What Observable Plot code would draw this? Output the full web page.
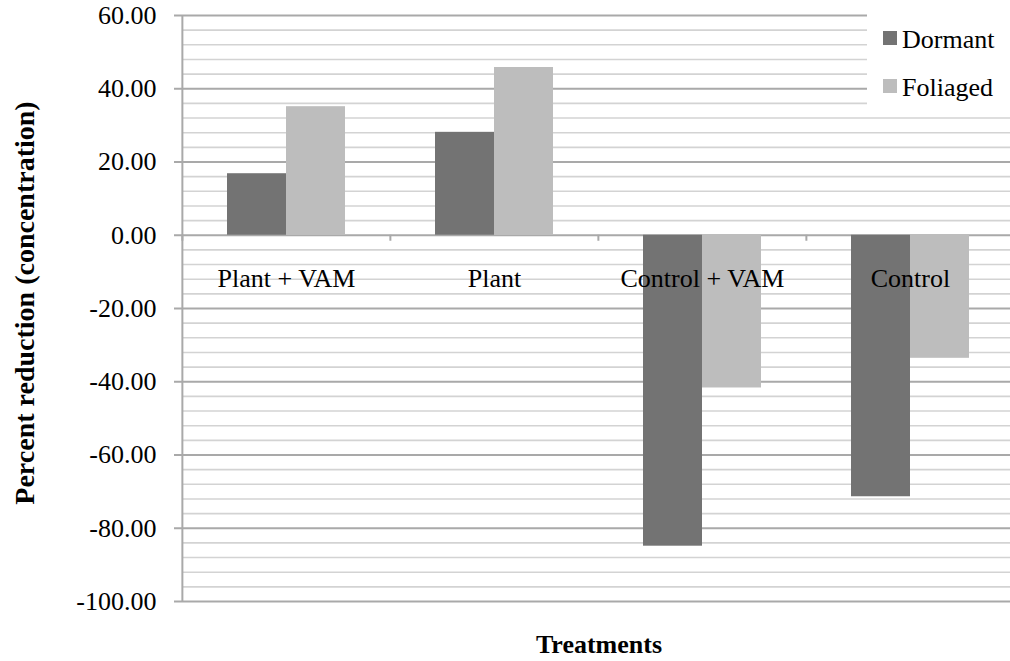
<!DOCTYPE html>
<html>
<head>
<meta charset="utf-8">
<script src="https://cdn.jsdelivr.net/npm/d3@7"></script>
<script src="https://cdn.jsdelivr.net/npm/@observablehq/plot@0.6"></script>
<style>
  html, body { margin: 0; padding: 0; background: white; overflow: hidden; }
  #chart { position: relative; width: 1010px; height: 661px; }
  #legend { position: absolute; left: 867px; top: 8px; width: 143px; height: 104px; background: white;
            font-family: 'Liberation Serif', 'Times New Roman', serif; font-size: 26px; color: black; }
  #legend .item { position: absolute; left: 16px; display: flex; align-items: center; white-space: nowrap; line-height: 1; }
  #legend .sw { width: 14px; height: 14px; margin-right: 5px; margin-top: -5px; }
</style>
</head>
<body>
<div id="chart"><div id="legend"></div></div>
<script>
const categories = ["Plant + VAM", "Plant", "Control + VAM", "Control"];
const series = ["Dormant", "Foliaged"];
const dormant = [16.8, 28.1, -84.9, -71.4];
const foliaged = [35.1, 45.8, -41.7, -33.6];
const majorTicks = [-100, -80, -60, -40, -20, 0, 20, 40, 60];
const minorTicks = d3.range(-100, 61, 4).filter(v => v % 20 !== 0);
const seriesColors = ["#737373", "#bdbdbd"];
const yTitle = "Percent reduction (concentration)";
const xTitle = "Treatments";

const data = categories.flatMap((c, i) => [
  {category: c, series: series[0], value: dormant[i]},
  {category: c, series: series[1], value: foliaged[i]}
]);

const FONT = "'Liberation Serif', 'Times New Roman', serif";
const halfBand = (1014 - 181) / categories.length / 2;

const plot = Plot.plot({
  width: 1010,
  height: 661,
  marginLeft: 181,
  marginRight: -4,
  marginTop: 15,
  marginBottom: 60,
  style: {fontFamily: FONT, fontSize: "26px", background: "white", overflow: "visible"},
  fx: {domain: categories, padding: 0, axis: null},
  x: {domain: series, paddingInner: 0, paddingOuter: 0.75, axis: null},
  y: {domain: [-100, 60], axis: null},
  color: {domain: series, range: seriesColors},
  marks: [
    Plot.ruleY(minorTicks, {stroke: "#d3d3d3", strokeWidth: 1.6}),
    Plot.ruleY(majorTicks, {stroke: "#a9a9a9", strokeWidth: 2}),
    Plot.barY(data, {fx: "category", x: "series", y: "value", fill: "series"}),
    Plot.ruleX(categories, {fx: d => d, x: null, y1: d => 0, y2: d => 0, insetBottom: -6, dx: -halfBand, stroke: "#a9a9a9", strokeWidth: 2}),
    Plot.ruleX([categories[0]], {fx: d => d, x: null, y1: d => -100, y2: d => 60, dx: -halfBand, stroke: "#a9a9a9", strokeWidth: 2}),
    Plot.axisY(majorTicks, {tickFormat: d => d.toFixed(2), tickSize: 8, tickPadding: 18, fontSize: 26, stroke: "#a9a9a9", fill: "black", strokeWidth: 2}),
    Plot.text(categories.map(c => ({category: c, base: 0})), {fx: "category", y: "base", text: "category", dy: 43, fontSize: 26, fill: "black"})
  ]
});

document.getElementById("chart").insertBefore(plot, document.getElementById("legend"));

const svg = d3.select(plot);
svg.append("text")
  .attr("transform", "translate(34,303) rotate(-90)")
  .attr("text-anchor", "middle")
  .attr("font-family", FONT)
  .attr("font-weight", "bold")
  .attr("font-size", 28)
  .attr("fill", "black")
  .text(yTitle);
svg.append("text")
  .attr("x", 599)
  .attr("y", 653)
  .attr("text-anchor", "middle")
  .attr("font-family", FONT)
  .attr("font-weight", "bold")
  .attr("font-size", 26)
  .attr("fill", "black")
  .text(xTitle);

// legend (HTML, colours from the plot's color scale)
const color = plot.scale("color");
const legend = d3.select("#legend");
color.domain.forEach((s, i) => {
  const item = legend.append("div").attr("class", "item").style("top", (19 + i * 48) + "px");
  item.append("div").attr("class", "sw").style("background", color.range[i]);
  item.append("span").text(s);
});
</script>
</body>
</html>
